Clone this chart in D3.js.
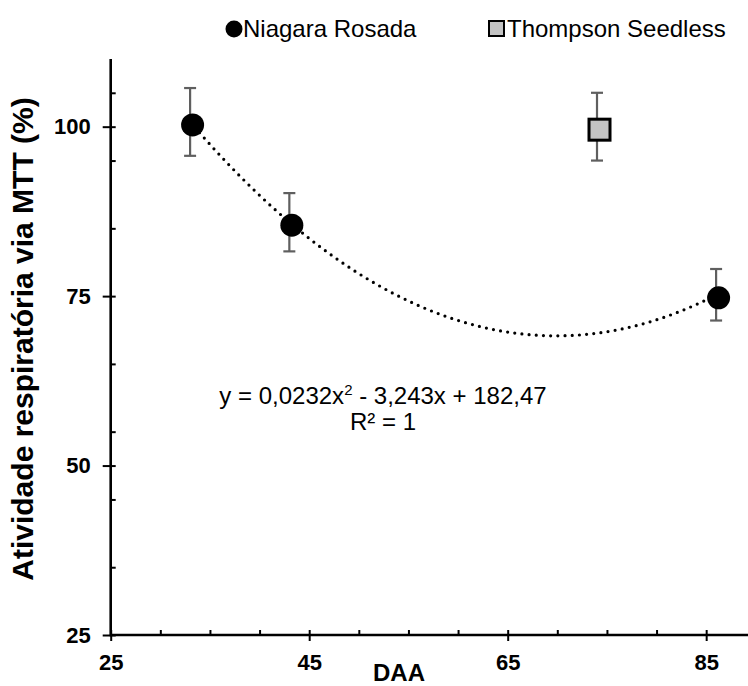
<!DOCTYPE html>
<html>
<head>
<meta charset="utf-8">
<script src="https://cdn.jsdelivr.net/npm/d3@7"></script>
<style>
  html, body { margin: 0; padding: 0; background: #fff; }
  svg { display: block; font-family: "Liberation Sans", Arial, sans-serif; }
</style>
</head>
<body>
<svg id="chart" width="748" height="686"></svg>
<script>
// Days after anthesis (DAA) and respiratory activity (MTT, %)
const niagaraDaa = [33, 43, 86];
const niagaraVal = [100.7, 85.9, 75.2];
const niagaraErr = [5.0, 4.3, 3.8];

const thompsonDaa = [74];
const thompsonVal = [100.0];
const thompsonErr = [5.0];

// Quadratic trendline for Niagara Rosada: y = a x^2 + b x + c
const trendCoef = [0.0232, -3.243, 182.47];
const trendLabel = ["y = 0,0232x", "2", "- 3,243x + 182,47"];
const r2Label = "R² = 1";

const xMajorTicks = [25, 45, 65, 85];
const xMinorTicks = [30, 35, 40, 50, 55, 60, 70, 75, 80, 90];
const yMajorTicks = [25, 50, 75, 100];
const yMinorTicks = [35, 45, 55, 65, 85, 95, 105];

const seriesNames = ["Niagara Rosada", "Thompson Seedless"];
const xTitle = "DAA";
const yTitle = "Atividade respiratória via MTT (%)";

const svg = d3.select("#chart");

const x = d3.scaleLinear().domain([25, 90]).range([110.7, 755.8]);
const y = d3.scaleLinear().domain([25, 110]).range([635, 58.9]);

const FONT = "Liberation Sans, Arial, sans-serif";
const axisColor = "#000";

// X axis: major ticks cross the line, minor ticks point inward
const gX = svg.append("g").attr("transform", `translate(0,${y(25)})`);
gX.call(d3.axisBottom(x).tickValues(xMajorTicks).tickSize(6).tickFormat(d3.format("d")));
gX.select(".domain").remove();
gX.selectAll(".tick line").attr("y1", -5).attr("y2", 6).attr("stroke", axisColor).attr("stroke-width", 2);
gX.selectAll(".tick text")
  .attr("y", 35).attr("dy", null)
  .attr("font-size", 22).attr("font-weight", "bold").attr("fill", "#000")
  .attr("font-family", FONT);
const gXm = svg.append("g").attr("transform", `translate(0,${y(25)})`);
gXm.call(d3.axisBottom(x).tickValues(xMinorTicks).tickSize(0).tickFormat(""));
gXm.select(".domain").remove();
gXm.selectAll(".tick line").attr("y1", -5).attr("y2", 0).attr("stroke", axisColor).attr("stroke-width", 2);

// Y axis
const gY = svg.append("g").attr("transform", `translate(${x(25)},0)`);
gY.call(d3.axisLeft(y).tickValues(yMajorTicks).tickSize(8).tickFormat(d3.format("d")));
gY.select(".domain").remove();
gY.selectAll(".tick line").attr("x1", 5).attr("x2", -8).attr("stroke", axisColor).attr("stroke-width", 2);
gY.selectAll(".tick text")
  .attr("x", -20)
  .attr("font-size", 22).attr("font-weight", "bold").attr("fill", "#000")
  .attr("font-family", FONT);
const gYm = svg.append("g").attr("transform", `translate(${x(25)},0)`);
gYm.call(d3.axisLeft(y).tickValues(yMinorTicks).tickSize(0).tickFormat(""));
gYm.select(".domain").remove();
gYm.selectAll(".tick line").attr("x1", 5).attr("x2", 0).attr("stroke", axisColor).attr("stroke-width", 2);

// Axis lines
svg.append("line")
  .attr("x1", x(25)).attr("x2", x(90))
  .attr("y1", y(25)).attr("y2", y(25))
  .attr("stroke", axisColor).attr("stroke-width", 2.6);
svg.append("line")
  .attr("x1", x(25)).attr("x2", x(25))
  .attr("y1", y(25) + 1.3).attr("y2", y(110))
  .attr("stroke", axisColor).attr("stroke-width", 2.6);

// Axis titles
svg.append("text")
  .attr("x", 399).attr("y", 681)
  .attr("text-anchor", "middle")
  .attr("font-size", 24).attr("font-weight", "bold")
  .text(xTitle);
svg.append("text")
  .attr("transform", `translate(33,339) rotate(-90)`)
  .attr("text-anchor", "middle")
  .attr("font-size", 30).attr("font-weight", "bold")
  .text(yTitle);

// Trendline (dotted)
const [a, b, c] = trendCoef;
const trendX = d3.range(niagaraDaa[0], niagaraDaa[niagaraDaa.length - 1] + 0.001, 0.25);
const line = d3.line().x(d => x(d)).y(d => y(a * d * d + b * d + c));
svg.append("path")
  .datum(trendX)
  .attr("d", line)
  .attr("fill", "none")
  .attr("stroke", "#000")
  .attr("stroke-width", 3.2)
  .attr("stroke-linecap", "round")
  .attr("stroke-dasharray", "0 7.2");

// Error bars
const errColor = "#5f5f5f";
const capHalf = 6;
function errorBars(xs, vs, es) {
  const g = svg.append("g").attr("stroke", errColor).attr("stroke-width", 2.2);
  xs.forEach((d, i) => {
    const cx = x(d), top = y(vs[i] + es[i]), bot = y(vs[i] - es[i]);
    g.append("line").attr("x1", cx).attr("x2", cx).attr("y1", top).attr("y2", bot);
    g.append("line").attr("x1", cx - capHalf).attr("x2", cx + capHalf).attr("y1", top).attr("y2", top);
    g.append("line").attr("x1", cx - capHalf).attr("x2", cx + capHalf).attr("y1", bot).attr("y2", bot);
  });
}
errorBars(niagaraDaa, niagaraVal, niagaraErr);
errorBars(thompsonDaa, thompsonVal, thompsonErr);

// Markers (drawn with a slight drop offset, as in the spreadsheet rendering)
const markers = svg.append("g").attr("transform", "translate(2.5,3)");
markers.append("g").selectAll("circle")
  .data(niagaraDaa)
  .join("circle")
  .attr("cx", d => x(d))
  .attr("cy", (d, i) => y(niagaraVal[i]))
  .attr("r", 11.5)
  .attr("fill", "#000");

const sq = 21;
markers.append("g").selectAll("rect")
  .data(thompsonDaa)
  .join("rect")
  .attr("x", d => x(d) - sq / 2)
  .attr("y", (d, i) => y(thompsonVal[i]) - sq / 2)
  .attr("width", sq).attr("height", sq)
  .attr("fill", "#c3c3c3")
  .attr("stroke", "#000").attr("stroke-width", 3);

// Trendline equation
const eq = svg.append("text")
  .attr("x", 383).attr("y", 404)
  .attr("text-anchor", "middle")
  .attr("font-size", 24).attr("fill", "#000");
eq.append("tspan").text(trendLabel[0]);
eq.append("tspan").attr("font-size", 15).attr("dy", -9).text(trendLabel[1]);
eq.append("tspan").attr("dy", 9).text(" " + trendLabel[2]);
svg.append("text")
  .attr("x", 383).attr("y", 430)
  .attr("text-anchor", "middle")
  .attr("font-size", 24).attr("fill", "#000")
  .text(r2Label);

// Legend
const legend = svg.append("g");
legend.append("circle").attr("cx", 234).attr("cy", 29).attr("r", 8.5).attr("fill", "#000");
legend.append("text").attr("x", 243).attr("y", 37).attr("font-size", 24).text(seriesNames[0]);
legend.append("rect").attr("x", 489).attr("y", 21).attr("width", 15).attr("height", 15)
  .attr("fill", "#c3c3c3").attr("stroke", "#000").attr("stroke-width", 2);
legend.append("text").attr("x", 507).attr("y", 37).attr("font-size", 24).text(seriesNames[1]);
</script>
</body>
</html>
